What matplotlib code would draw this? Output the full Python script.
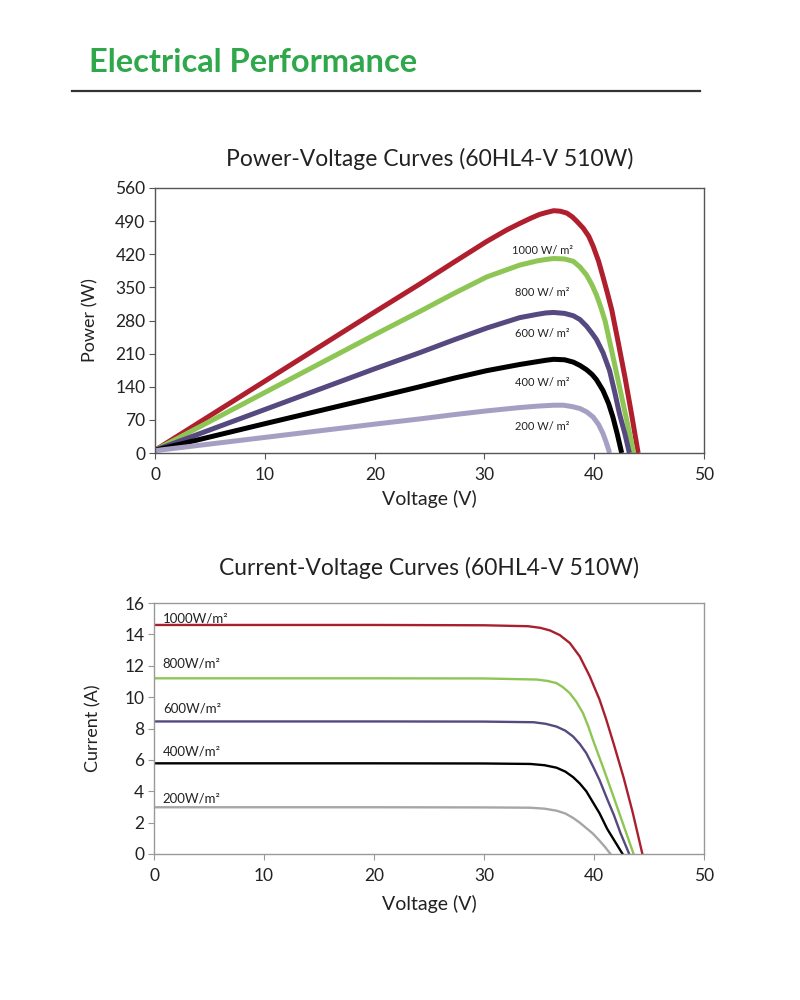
import matplotlib
matplotlib.use("Agg")
import matplotlib.pyplot as plt

plt.rcParams["font.family"] = ["Lato", "DejaVu Sans"]

# ---- power-voltage curves ----
pv_labels = ["1000 W/ m²", "800 W/ m²", "600 W/ m²", "400 W/ m²", "200 W/ m²"]
pv_colors = ["#b01f2e", "#8dc654", "#56497f", "#000000", "#a79fc3"]

pv_v_1000 = [0, 10, 20, 24.1, 27.2, 30.2, 32.0, 33.2, 34.2, 35.0, 35.6, 36.3, 36.9, 37.5, 38.0, 38.4,
             39.0, 39.5, 39.9, 40.4, 40.8, 41.2, 41.6, 42.2, 42.8, 43.4, 44.0]
pv_p_1000 = [6, 152, 298, 357, 403, 447, 471, 485, 496, 504, 508, 512, 511, 507, 499, 490,
             475, 458, 437, 405, 372, 338, 302, 232, 160, 82, 0]

pv_v_800 = [0, 10, 20, 24.1, 27.2, 30.2, 33.2, 34.8, 35.6, 36.3, 37.3, 38.1, 38.7, 39.3, 39.8,
            40.2, 40.6, 41.0, 41.6, 42.3, 43.0, 43.6]
pv_p_800 = [6, 128, 250, 299, 337, 372, 397, 406, 409, 411, 410, 405, 393, 376, 355,
            334, 308, 278, 215, 140, 65, 0]

pv_v_600 = [0, 10, 20, 24.1, 27.2, 30.2, 33.2, 34.8, 35.6, 36.3, 37.3, 38.1, 38.7, 39.3, 39.8,
            40.2, 40.8, 41.4, 41.9, 42.3, 42.8, 43.2]
pv_p_600 = [6, 92, 178, 212, 239, 264, 286, 293, 296, 297, 295, 290, 282, 268, 253,
            240, 212, 174, 125, 83, 40, 0]

pv_v_400 = [0, 10, 20, 24.1, 27.2, 30.2, 33.2, 34.8, 35.6, 36.3, 37.3, 38.1, 38.7, 39.3, 39.8,
            40.2, 40.8, 41.3, 41.7, 42.1, 42.5]
pv_p_400 = [6, 62, 117, 140, 158, 174, 187, 193, 196, 198, 197, 192, 185, 176, 166,
            155, 132, 105, 76, 40, 0]

pv_v_200 = [0, 10, 20, 24.1, 27.2, 30.2, 33.2, 34.8, 36.3, 37.2, 38.0, 38.7, 39.3, 39.9, 40.4,
            40.8, 41.1, 41.4]
pv_p_200 = [5, 33, 61, 72, 81, 89, 96, 99, 101, 101, 98, 94, 87, 76, 60,
            41, 22, 0]

pv_v = [pv_v_1000, pv_v_800, pv_v_600, pv_v_400, pv_v_200]
pv_p = [pv_p_1000, pv_p_800, pv_p_600, pv_p_400, pv_p_200]
pv_label_y = [428, 340, 252, 150, 55]

# ---- current-voltage curves ----
iv_labels = ["1000W/m²", "800W/m²", "600W/m²", "400W/m²", "200W/m²"]
iv_colors = ["#a8202e", "#8dc654", "#56497f", "#000000", "#a6a6a6"]

iv_v_1000 = [0, 20, 30, 34.0, 35.1, 36.0, 36.9, 37.8, 38.7, 39.6, 40.5, 41.1, 41.8, 42.7, 43.5, 44.4]
iv_i_1000 = [14.6, 14.6, 14.58, 14.52, 14.42, 14.25, 13.95, 13.45, 12.6, 11.35, 9.85, 8.6, 7.0, 4.85, 2.7, 0]

iv_v_800 = [0, 20, 30, 34.8, 35.8, 36.6, 37.2, 37.8, 38.4, 39.0, 39.5, 39.9, 40.8, 41.7, 42.6, 43.6]
iv_i_800 = [11.2, 11.2, 11.19, 11.12, 11.03, 10.89, 10.62, 10.25, 9.7, 8.98, 8.1, 7.28, 5.57, 3.8, 2.0, 0]

iv_v_600 = [0, 20, 30, 34.5, 35.6, 36.6, 37.4, 38.1, 38.7, 39.3, 39.9, 40.5, 41.2, 41.8, 42.4, 43.2]
iv_i_600 = [8.45, 8.45, 8.44, 8.4, 8.3, 8.12, 7.86, 7.49, 7.02, 6.43, 5.6, 4.72, 3.5, 2.5, 1.35, 0]

iv_v_400 = [0, 20, 30, 34.2, 35.5, 36.6, 37.4, 38.1, 38.7, 39.3, 39.9, 40.5, 41.2, 41.9, 42.6]
iv_i_400 = [5.78, 5.78, 5.77, 5.74, 5.66, 5.5, 5.25, 4.9, 4.5, 4.0, 3.3, 2.6, 1.6, 0.8, 0]

iv_v_200 = [0, 20, 30, 34.2, 35.5, 36.6, 37.4, 38.1, 38.7, 39.3, 39.9, 40.5, 41.0, 41.5]
iv_i_200 = [2.98, 2.98, 2.97, 2.95, 2.89, 2.76, 2.58, 2.3, 2.0, 1.65, 1.3, 0.85, 0.45, 0]

iv_v = [iv_v_1000, iv_v_800, iv_v_600, iv_v_400, iv_v_200]
iv_i = [iv_i_1000, iv_i_800, iv_i_600, iv_i_400, iv_i_200]
iv_label_y = [15.0, 12.17, 9.3, 6.53, 3.55]

v_ticks = [0, 10, 20, 30, 40, 50]
p_ticks = [0, 70, 140, 210, 280, 350, 420, 490, 560]
i_ticks = [0, 2, 4, 6, 8, 10, 12, 14, 16]

fig = plt.figure(figsize=(8, 10), dpi=100)

# header
fig.text(0.111, 0.938, "Electrical Performance", color="#2ea84a", fontsize=23.5,
         fontweight="bold", ha="left", va="center")
fig.add_artist(plt.Line2D([0.09, 0.875], [0.909, 0.909], color="#333333", lw=1.6))


def style_axes(ax, spine_color):
    for s in ax.spines.values():
        s.set_color(spine_color)
        s.set_linewidth(1.0)
    ax.tick_params(direction="out", length=4, width=0.8, color=spine_color,
                   labelsize=12.5, labelcolor="#222222")
    ax.tick_params(axis="x", pad=6)
    ax.tick_params(axis="y", pad=3)
    ax.set_xlim(0, 50)
    ax.set_xticks(v_ticks)


# power-voltage
ax1 = fig.add_axes([0.194, 0.547, 0.686, 0.265])
for v, p, c in zip(pv_v, pv_p, pv_colors):
    ax1.plot(v, p, color=c, lw=3.6, solid_capstyle="butt", solid_joinstyle="round")
for lab, y in zip(pv_labels, pv_label_y):
    ax1.text(35.3, y, lab, fontsize=8, ha="center", va="center", color="#222222")
style_axes(ax1, "#555555")
ax1.set_ylim(0, 560)
ax1.set_yticks(p_ticks)
ax1.set_title("Power-Voltage Curves (60HL4-V 510W)", fontsize=16.5, color="#222222", pad=16)
ax1.set_xlabel("Voltage (V)", fontsize=14, color="#222222", labelpad=5)
ax1.set_ylabel("Power (W)", fontsize=13, color="#222222", labelpad=12)

# current-voltage
ax2 = fig.add_axes([0.1925, 0.146, 0.6875, 0.251])
for v, i, c in zip(iv_v, iv_i, iv_colors):
    ax2.plot(v, i, color=c, lw=1.7, solid_joinstyle="round")
for lab, y in zip(iv_labels, iv_label_y):
    ax2.text(0.8, y, lab, fontsize=9.5, ha="left", va="center", color="#222222")
style_axes(ax2, "#999999")
ax2.set_ylim(0, 16)
ax2.set_yticks(i_ticks)
ax2.set_title("Current-Voltage Curves (60HL4-V 510W)", fontsize=16.5, color="#222222", pad=20)
ax2.set_xlabel("Voltage (V)", fontsize=14, color="#222222", labelpad=8)
ax2.set_ylabel("Current (A)", fontsize=13, color="#222222", labelpad=16)

fig.savefig("out.png", dpi=100)
